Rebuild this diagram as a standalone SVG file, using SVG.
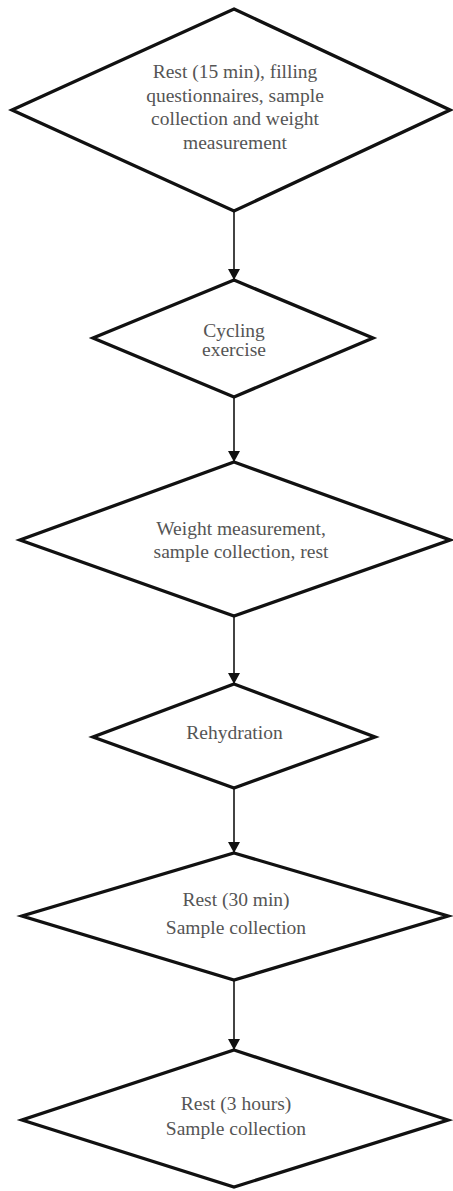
<svg xmlns="http://www.w3.org/2000/svg" width="453" height="1191" viewBox="0 0 453 1191">
<defs>
<style>
.node polygon{fill:#fff;stroke:#111;stroke-width:3.3;stroke-linejoin:miter}
.node text{font-family:"Liberation Serif","Times New Roman",serif;font-size:19.5px;fill:#555;text-anchor:middle}
.conn line{stroke:#222;stroke-width:1.7}
</style>
<marker id="ah" markerWidth="12" markerHeight="12" refX="11" refY="6" orient="auto" markerUnits="userSpaceOnUse">
<path d="M0,0 L11,6 L0,12 Z" fill="#111"/>
</marker>
</defs>
<rect width="453" height="1191" fill="#fff"/>
<g id="connectors" class="conn">
<line x1="234" y1="211" x2="234" y2="280" marker-end="url(#ah)"/>
<line x1="234" y1="397" x2="234" y2="462" marker-end="url(#ah)"/>
<line x1="234" y1="616" x2="234" y2="684" marker-end="url(#ah)"/>
<line x1="234" y1="788" x2="234" y2="853" marker-end="url(#ah)"/>
<line x1="234" y1="980" x2="234" y2="1050" marker-end="url(#ah)"/>
</g>
<g id="node1" class="node">
<polygon points="234,9 450,110 234,211 12,110"/>
<text x="235" y="78">Rest (15 min), filling</text>
<text x="235" y="101.5">questionnaires, sample</text>
<text x="235" y="125">collection and weight</text>
<text x="235" y="148.5">measurement</text>
</g>
<g id="node2" class="node">
<polygon points="234,280 373,338 234,397 93,338"/>
<text x="234" y="337">Cycling</text>
<text x="234" y="356">exercise</text>
</g>
<g id="node3" class="node">
<polygon points="234,462 450,540 234,616 20,540"/>
<text x="241" y="535">Weight measurement,</text>
<text x="241" y="558">sample collection, rest</text>
</g>
<g id="node4" class="node">
<polygon points="234,684 375,737 234,788 93,737"/>
<text x="234.5" y="739">Rehydration</text>
</g>
<g id="node5" class="node">
<polygon points="234,853 448,916 234,980 22,916"/>
<text x="236" y="906">Rest (30 min)</text>
<text x="236" y="934">Sample collection</text>
</g>
<g id="node6" class="node">
<polygon points="234,1050 448,1120 234,1187 22,1120"/>
<text x="236" y="1110">Rest (3 hours)</text>
<text x="236" y="1135">Sample collection</text>
</g>
</svg>
